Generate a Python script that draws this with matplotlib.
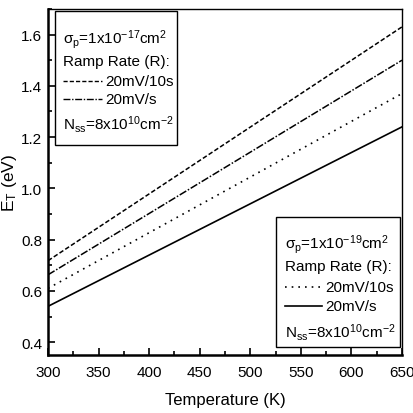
"""E_T vs temperature chart"""

import matplotlib
matplotlib.use("Agg")
import matplotlib.pyplot as plt
from matplotlib.patches import Rectangle
from matplotlib.lines import Line2D
from matplotlib.ticker import MultipleLocator

# Data (straight lines)
temps = [300, 650]
et_17_slow = [0.718, 1.630]   # sigma 1e-17, 20mV/10s (dashed)
et_17_fast = [0.663, 1.500]   # sigma 1e-17, 20mV/s (dash-dot)
et_19_slow = [0.610, 1.370]   # sigma 1e-19, 20mV/10s (dotted)
et_19_fast = [0.540, 1.240]   # sigma 1e-19, 20mV/s (solid)

x_ticks = [300, 350, 400, 450, 500, 550, 600, 650]
y_ticks = [0.4, 0.6, 0.8, 1.0, 1.2, 1.4, 1.6]

plt.rcParams['font.family'] = ['Liberation Sans', 'DejaVu Sans']
plt.rcParams['mathtext.fontset'] = 'custom'
plt.rcParams['mathtext.rm'] = 'Liberation Sans'
plt.rcParams['mathtext.it'] = 'Liberation Sans'

fig = plt.figure(figsize=(4.14, 4.14), dpi=100)
ax = fig.add_axes([0.116, 0.140, 0.855, 0.836])

ax.plot(temps, et_17_slow, color='black', lw=1.1, linestyle=(0, (3, 1.5)))
ax.plot(temps, et_17_fast, color='black', lw=1.1, linestyle=(0, (5, 1.2, 1, 1.2)))
ax.plot(temps, et_19_slow, color='black', lw=1.2, linestyle=(0, (1, 3)))
ax.plot(temps, et_19_fast, color='black', lw=1.2, linestyle='-')

ax.set_xlim(300, 650)
ax.set_ylim(0.35, 1.70)
ax.set_xticks(x_ticks)
ax.set_yticks(y_ticks)
ax.set_yticklabels([f"{v:.1f}" for v in y_ticks])
ax.xaxis.set_minor_locator(MultipleLocator(25))
ax.yaxis.set_minor_locator(MultipleLocator(0.1))
ax.tick_params(which='both', direction='in', top=False, right=False,
               labelsize=11, width=1.2)
ax.tick_params(which='major', length=5)
ax.tick_params(which='minor', length=3)
ax.tick_params(axis='x', pad=7.5)
ax.tick_params(axis='y', pad=4)

for side in ['left', 'bottom']:
    ax.spines[side].set_linewidth(1.8)
for side in ['top', 'right']:
    ax.spines[side].set_linewidth(1.0)

ax.set_xlabel("Temperature (K)", fontsize=12, labelpad=9)
ax.set_ylabel(r"E$_\mathregular{T}$ (eV)", fontsize=12.5, labelpad=2)

tr = ax.transAxes
fs = 11


def legend_box(x0, y0, x1, y1, rows, text_x, line_x0, line_x1, styles, sigma_exp):
    ax.add_patch(Rectangle((x0, y0), x1 - x0, y1 - y0, transform=tr,
                           fill=False, lw=1.0, ec='black', zorder=5))
    ax.text(text_x, rows[0], r"$\sigma_\mathregular{p}$=1x10$^\mathregular{" + sigma_exp + r"}$cm$^\mathregular{2}$",
            transform=tr, fontsize=fs, va='center', ha='left')
    ax.text(text_x, rows[1], "Ramp Rate (R):", transform=tr, fontsize=fs,
            va='center', ha='left')
    for y, (ls, lw), lab in zip(rows[2:4], styles, ["20mV/10s", "20mV/s"]):
        ax.add_line(Line2D([line_x0, line_x1], [y, y], transform=tr,
                           color='black', lw=lw, linestyle=ls))
        ax.text(line_x1 + 0.01, y, lab, transform=tr, fontsize=fs,
                va='center', ha='left')
    ax.text(text_x, rows[4], r"N$_\mathregular{ss}$=8x10$^\mathregular{10}$cm$^\mathregular{-2}$",
            transform=tr, fontsize=fs, va='center', ha='left')


legend_box(0.020, 0.607, 0.364, 0.994,
           [0.913, 0.850, 0.792, 0.740, 0.668],
           0.042, 0.042, 0.153,
           [((0, (3, 1.5)), 1.0), ((0, (5, 1.2, 1, 1.2)), 1.0)], "-17")
legend_box(0.644, 0.023, 0.994, 0.399,
           [0.321, 0.257, 0.197, 0.142, 0.069],
           0.669, 0.669, 0.774,
           [((0, (1, 3)), 1.2), ('-', 1.2)], "-19")

fig.savefig("out.png", dpi=100)
